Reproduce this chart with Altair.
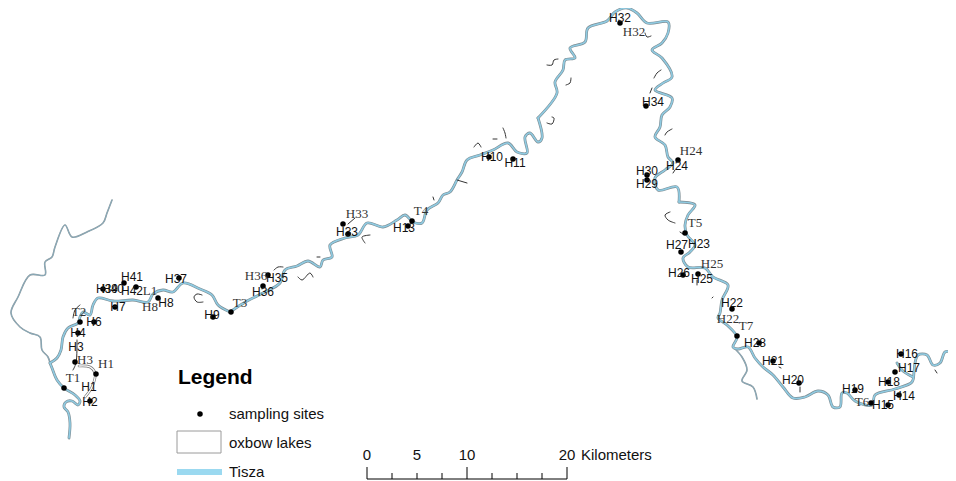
import altair as alt
import pandas as pd

# ---- values (image pixel coordinates used as map x / y) ----
river_lower = [(69,438),(70,423),(68,412),(64,407),(66,402),(72,401),(78,405),(80,401),(75,395),(64,388),(57,380),(52,368),(50,363)]
river_a = [(50,363),(57,358),(61,350),(63,337),(68,328),(78,323),(80,317),(83,312),(90,315),(93,305),(98,298),(113,301),(133,300),(148,302),(153,294),(163,290),(173,292),(183,283),(200,289),(212,295),(218,305),(230,312)]
river_b = [(230,312),(247,301),(263,293),(280,283),(285,270),(297,266),(308,261),(320,267),(323,260),(332,257),(330,245),(345,238),(358,235),(367,223),(383,227),(397,220),(405,215),(413,222),(422,223),(427,210),(438,203),(443,195),(450,192),(457,180),(462,172),(467,160),(480,155),(493,150),(508,143),(517,152),(527,153),(525,137),(530,133),(538,142),(542,138),(538,118)]
river_c = [(538,118),(557,93),(555,82),(563,70),(565,60),(575,58),(570,48),(585,42),(588,28),(607,21),(615,12),(627,8),(637,13),(647,23),(668,22),(668,33),(662,43),(652,50),(662,58),(672,77),(663,83),(655,90),(672,98),(670,107),(662,115),(660,127),(655,137),(665,145),(668,157),(673,163),(665,170),(655,178),(658,190),(677,187),(679,202)]
river_d = [(679,202),(695,205),(688,215),(685,225),(687,235),(695,245),(690,252),(683,258),(688,267),(705,268),(713,277),(728,285),(722,300),(720,313),(718,318),(727,325),(737,337),(733,347),(738,349),(748,347),(755,358),(763,367),(773,375),(783,387),(793,398),(805,397),(818,391),(828,395),(833,407),(840,407),(842,393),(847,393),(855,401),(872,405),(875,395),(895,389),(912,382),(914,372),(915,363),(918,355),(927,355),(933,365),(940,363),(945,352),(950,352),(956,358)]
river_stub = [(897,363),(903,371),(913,377)]
trib_west = [(50,363),(48,357),(42,350),(40,337),(30,333),(20,327),(11,313),(18,297),(30,275),(45,275),(45,262),(52,257),(55,247),(65,225),(72,237),(87,232),(103,223),(107,213),(112,200)]
trib_east = [(735,349),(742,357),(747,370),(742,381),(753,387),(757,399)]
oxbow_lines = [
    [(202,295),(197,294),(194,297),(197,302),(203,302)],
    [(80,305),(75,310),(73,318)],
    [(77,340),(76,363),(73,370)],
    [(274,270),(278,267),(283,267)],
    [(298,277),(302,280),(310,273),(313,277)],
    [(317,257),(320,257)],
    [(348,224),(355,218)],
    [(370,235),(362,237),(365,243)],
    [(433,197),(434,200)],
    [(457,180),(467,183)],
    [(474,147),(478,143),(481,147)],
    [(493,139),(497,139)],
    [(503,128),(505,133),(506,138)],
    [(547,123),(552,124),(554,118),(552,117)],
    [(547,65),(552,65),(554,60),(558,59)],
    [(566,85),(570,83),(571,78)],
    [(645,33),(647,37),(651,36)],
    [(654,78),(657,73),(661,70)],
    [(650,93),(652,88)],
    [(665,135),(667,132),(672,129)],
    [(673,173),(675,170)],
    [(670,212),(665,215),(668,220),(675,223)],
    [(680,232),(683,234)],
    [(712,298),(713,297)],
    [(697,285),(697,280)],
    [(779,367),(781,368)],
    [(800,387),(800,392)],
    [(935,370),(937,373)],
]
oxbow_long = [(79,366),(90,367),(95,373),(92,387),(85,397)]

site_x = [64,96,75,90,78,80,94,115,103,124,136,158,179,213,231,263,268,343,348,412,408,489,513,620,646,678,647,647,685,681,683,698,732,737,759,773,799,855,871,888,899,888,895,901]
site_y = [388,374,362,401,333,322,322,307,289,283,287,298,278,317,312,286,275,224,234,221,226,157,159,23,106,160,175,180,233,252,275,274,309,336,343,361,383,390,403,405,395,382,372,354]

sans_text = ["H2","H1","H3","H4","H6","H7","H39","H40","H41","H42","H8","H37","H9","H35","H36","H33","H13","H10","H11","H32","H34","H24","H30","H29","H27","H23","H26","H25","H22","H28","H21","H20","H19","H15","H14","H18","H17","H16"]
sans_x = [90,89,76,78,94,118,107,113,132,132,166,176,212,277,263,347,404,492,515,620,653,677,647,647,677,699,679,702,732,755,773,793,853,883,904,889,909,907]
sans_y = [402,387,347,333,322,307,289,289,277,291,303,279,315,278,292,232,228,157,163,18,102,166,171,184,245,244,273,279,303,343,361,380,389,405,396,382,368,354]

serif_text = ["T1","T2","T3","T4","T5","T6","T7","H1","H3","L1","H8","H36","H33","H32","H24","H25","H22"]
serif_x = [73,79,240,421,695,862,746,106,85,150,150,256,357,634,691,712,728]
serif_y = [378,312,303,211,223,402,326,364,360,291,307,276,214,32,151,264,319]

scale_major = [367,467,567]
scale_minor = [392,417,442,492,517,542]
scale_labels = ["0","5","10","20"]
scale_label_x = [367,417,467,567]

# ---- scales: the map frame is the photographed page ----
X = alt.Scale(domain=[8,948], range=[0,940], nice=False, zero=False)
Y = alt.Scale(domain=[8,481], range=[0,473], nice=False, zero=False)
x_ = lambda f="x": alt.X(f"{f}:Q", scale=X, axis=None)
y_ = lambda f="y": alt.Y(f"{f}:Q", scale=Y, axis=None)

def paths(lines):
    rows = []
    for i, pts in enumerate(lines):
        for j, (a, b) in enumerate(pts):
            rows.append({"x": a, "y": b, "id": i, "o": j})
    return pd.DataFrame(rows)

def line_layer(lines, color, width, interp="catmull-rom"):
    return alt.Chart(paths(lines)).mark_line(
        color=color, strokeWidth=width, interpolate=interp, strokeCap="round", strokeJoin="round", clip=False
    ).encode(x=x_(), y=y_(), detail="id:N", order="o:Q")

main = [river_lower, river_a, river_b, river_c, river_d, river_stub]
tribs = [trib_west, trib_east]

layers = [
    line_layer(tribs, "#8d979c", 1.6),
    line_layer(tribs, "#86b4c8", 0.7),
    line_layer(main, "#7d8d94", 2.8),
    line_layer(main, "#8fcbe2", 1.6),
    line_layer(oxbow_lines, "#333333", 1.0),
    line_layer([oxbow_long], "#777777", 2.6),
    line_layer([oxbow_long], "#ffffff", 1.3),
]

sites = pd.DataFrame({"x": site_x, "y": site_y})
layers.append(alt.Chart(sites).mark_circle(color="#000000", opacity=1, size=30).encode(x=x_(), y=y_()))

sans = pd.DataFrame({"x": sans_x, "y": sans_y, "t": sans_text})
layers.append(alt.Chart(sans).mark_text(font="Liberation Sans", fontSize=12, color="#111111", align="center", baseline="middle").encode(x=x_(), y=y_(), text="t:N"))
serif = pd.DataFrame({"x": serif_x, "y": serif_y, "t": serif_text})
layers.append(alt.Chart(serif).mark_text(font="Liberation Serif", fontSize=13, color="#333333", align="center", baseline="middle").encode(x=x_(), y=y_(), text="t:N"))

# legend
layers.append(alt.Chart(pd.DataFrame({"x": [178], "y": [378], "t": ["Legend"]})).mark_text(
    font="Liberation Sans", fontSize=21, fontWeight="bold", color="#000000", align="left", baseline="middle").encode(x=x_(), y=y_(), text="t:N"))
leg = pd.DataFrame({"x": [229,229,229], "y": [414,443,472], "t": ["sampling sites","oxbow lakes","Tisza"]})
layers.append(alt.Chart(leg).mark_text(font="Liberation Sans", fontSize=15, color="#111111", align="left", baseline="middle").encode(x=x_(), y=y_(), text="t:N"))
layers.append(alt.Chart(pd.DataFrame({"x": [200], "y": [414]})).mark_circle(color="#000000", opacity=1, size=30).encode(x=x_(), y=y_()))
layers.append(alt.Chart(pd.DataFrame({"x": [177], "x2": [221], "y": [431], "y2": [453]})).mark_rect(
    fill="#ffffff", stroke="#9a9a9a", strokeWidth=1).encode(x=x_(), x2="x2:Q", y=y_(), y2="y2:Q"))
layers.append(alt.Chart(pd.DataFrame({"x": [177], "x2": [222], "y": [469], "y2": [475]})).mark_rect(
    fill="#9bd9f0").encode(x=x_(), x2="x2:Q", y=y_(), y2="y2:Q"))

# scale bar
layers.append(alt.Chart(pd.DataFrame({"x": [367], "x2": [567], "y": [479]})).mark_rule(color="#000000", strokeWidth=1).encode(x=x_(), x2="x2:Q", y=y_()))
layers.append(alt.Chart(pd.DataFrame({"x": scale_major, "y": [467]*3, "y2": [479]*3})).mark_rule(color="#000000", strokeWidth=1).encode(x=x_(), y=y_(), y2="y2:Q"))
layers.append(alt.Chart(pd.DataFrame({"x": scale_minor, "y": [473]*6, "y2": [479]*6})).mark_rule(color="#000000", strokeWidth=1).encode(x=x_(), y=y_(), y2="y2:Q"))
layers.append(alt.Chart(pd.DataFrame({"x": scale_label_x, "y": [455]*4, "t": scale_labels})).mark_text(
    font="Liberation Sans", fontSize=15, color="#111111", align="center", baseline="middle").encode(x=x_(), y=y_(), text="t:N"))
layers.append(alt.Chart(pd.DataFrame({"x": [581], "y": [455], "t": ["Kilometers"]})).mark_text(
    font="Liberation Sans", fontSize=15, color="#111111", align="left", baseline="middle").encode(x=x_(), y=y_(), text="t:N"))

chart = alt.layer(*layers).properties(
    width=940, height=473, padding=0, autosize=alt.AutoSizeParams(type="none"), background="#ffffff"
).configure_view(stroke=None)

chart.save("out.html", embed_options={"renderer": "svg", "actions": False})
